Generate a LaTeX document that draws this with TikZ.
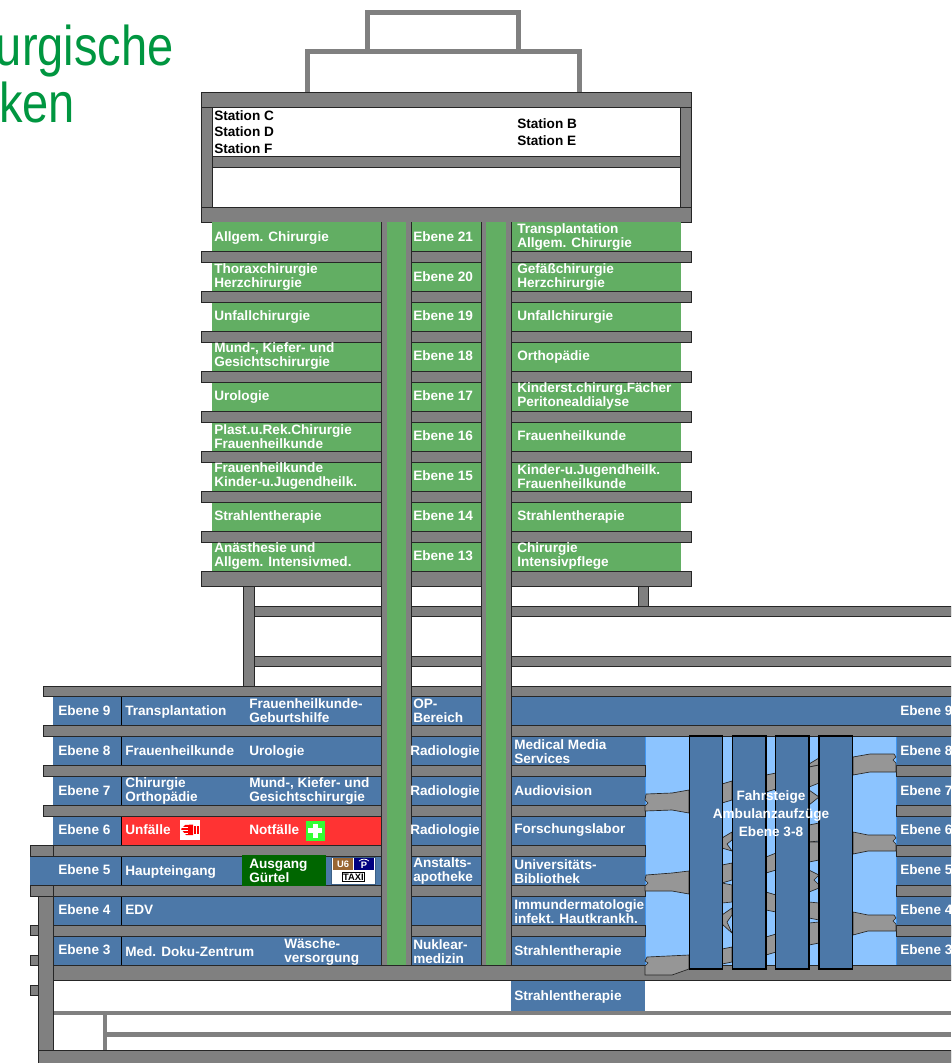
\documentclass[tikz,border=0pt]{standalone}
\usepackage{fontspec}
\setmainfont{Liberation Sans}
\newfontfamily\titlefont[FakeStretch=0.84]{Liberation Sans}
\definecolor{slabgray}{HTML}{808080}
\definecolor{walkgray}{HTML}{969696}
\definecolor{towergreen}{HTML}{62AE63}
\definecolor{roomblue}{HTML}{4C78A8}
\definecolor{airblue}{HTML}{8CC4FF}
\definecolor{edgeblue}{HTML}{3F95F0}
\definecolor{alarmred}{HTML}{FF3333}
\definecolor{exitgreen}{HTML}{006600}
\definecolor{titlegreen}{HTML}{009640}
\begin{document}
\begin{tikzpicture}[x=0.75pt,y=-0.75pt,
  slab/.style={draw=black!85,line width=0.6pt,fill=slabgray},
  thinwall/.style={fill=slabgray},
  roof/.style={draw=slabgray,line width=3.75pt},
  walk/.style={draw=black!85,line width=0.5pt,fill=walkgray},
  lift/.style={draw=black,line width=1.1pt,fill=roomblue},
  level/.style={text=white,anchor=west,inner sep=0pt,align=left,font=\fontsize{10.2}{10.5}\selectfont\bfseries},
  lab/.style={level,yshift=-0.9pt},
  blk/.style={level,text=black},
  big/.style={inner sep=0pt,text=titlegreen,font=\fontsize{42}{42}\titlefont}]
\clip (0,0) rectangle (951,1063);
\fill[white] (0,0) rectangle (951,1063);
% title
\node[big,anchor=base east] (titleA) at (174,65) {urgische};
\node[big,anchor=base west] (titleB) at (-1,122) {ken};
% roof
\draw[roof] (367.5,52) -- (367.5,12.5) -- (518.5,12.5) -- (518.5,52);
\draw[roof] (307.5,92) -- (307.5,52) -- (579.5,52) -- (579.5,92);
% top floors of the tower
\draw[slab] (201,107) rectangle (212,207);
\draw[slab] (680,107) rectangle (691,207);
\draw[slab] (212,156) rectangle (680,167);
\draw[slab] (201,92) rectangle (691,107);
\draw[slab] (201,207) rectangle (691,222);
\node[blk] (stC) at (214,115.5) {Station C};
\node[blk] (stD) at (214,132) {Station D};
\node[blk] (stF) at (214,148.5) {Station F};
\node[blk] (stB) at (517,123.5) {Station B};
\node[blk] (stE) at (517,140.5) {Station E};
% tower rooms
\fill[towergreen] (212,222) rectangle (681,571);
\draw[slab] (201,251) rectangle (691,262);
\draw[slab] (201,291) rectangle (691,302);
\draw[slab] (201,331) rectangle (691,342);
\draw[slab] (201,371) rectangle (691,382);
\draw[slab] (201,411) rectangle (691,422);
\draw[slab] (201,451) rectangle (691,462);
\draw[slab] (201,491) rectangle (691,502);
\draw[slab] (201,531) rectangle (691,542);
\draw[slab] (201,571) rectangle (691,586);
% supports and open floors
\draw[slab] (243,586) rectangle (254,686);
\draw[slab] (638,586) rectangle (648,606);
\draw[slab] (254,606) rectangle (951,616);
\draw[slab] (254,656) rectangle (951,666);
% lower block
\fill[roomblue] (53,696) rectangle (381,965);
\fill[roomblue] (411,696) rectangle (481,965);
\fill[roomblue] (511,696) rectangle (951,965);
\fill[roomblue] (30,856) rectangle (53,885);
\fill[roomblue] (511,980) rectangle (645,1011);
\fill[airblue] (645,736) rectangle (896,965);
\draw[edgeblue,line width=0.75pt] (645,736) -- (645,965) (896,736) -- (896,965);
\draw[black,line width=0.75pt] (121.5,696) -- (121.5,965);
\fill[alarmred] (122,816) rectangle (381,845);
\draw[slab] (43,686) rectangle (951,696);
\draw[slab] (43,725) rectangle (951,736);
\draw[slab] (43,765) rectangle (645,776);
\draw[slab] (43,805) rectangle (645,816);
\draw[slab] (30,845) rectangle (53,856);
\draw[slab] (53,845) rectangle (645,856);
\draw[slab] (30,885) rectangle (53,896);
\draw[slab] (53,885) rectangle (645,896);
\draw[slab] (53,925) rectangle (645,936);
\draw[slab] (896,765) rectangle (951,776);
\draw[slab] (896,805) rectangle (951,816);
\draw[slab] (896,845) rectangle (951,856);
\draw[slab] (896,885) rectangle (951,896);
\draw[slab] (896,925) rectangle (951,936);
\fill[exitgreen] (242,855) rectangle (326,885.5);
% base
\fill[thinwall] (53,1011) rectangle (951,1015);
\fill[thinwall] (103,1015) rectangle (107,1050);
\fill[thinwall] (107,1032) rectangle (951,1037);
\draw[slab] (30,925) rectangle (38,935);
\draw[slab] (30,955) rectangle (38,965);
\draw[slab] (30,985) rectangle (38,995);
\draw[slab] (38,896) rectangle (53,1050);
\draw[slab] (53,965) rectangle (951,980);
\draw[slab] (38,1050) rectangle (951,1064);
% shafts
\fill[slabgray] (381,222) rectangle (411,965);
\fill[slabgray] (481,222) rectangle (511,965);
\draw[black!85,line width=0.6pt] (381,222) -- (381,965) (411,222) -- (411,965);
\draw[black!85,line width=0.6pt] (481,222) -- (481,965) (511,222) -- (511,965);
\fill[towergreen] (386.5,222) rectangle (405.5,965);
\fill[towergreen] (486,222) rectangle (506,965);
% walkways between the block and the lifts
\draw[walk] (646,794) -- (672,793) -- (689,790) -- (689,813) -- (672,810) -- (645,811) -- (645,806) -- (648,803) -- (645,800) -- cycle;
\draw[walk] (646,875) -- (672,873) -- (689,871) -- (689,894) -- (672,891) -- (645,891) -- (645,886) -- (648,883) -- (645,880) -- cycle;
\draw[walk] (647,957) -- (689,955) -- (689,969) -- (672,975) -- (645,975) -- (645,966) -- (648,963) -- (645,961) -- cycle;
\draw[walk] (853,757) -- (870,754) -- (894,754) -- (896,757) -- (893,760) -- (896,763) -- (896,772) -- (870,772) -- (853,775) -- cycle;
\draw[walk] (853,832) -- (868,835) -- (894,835) -- (896,838) -- (893,841) -- (896,844) -- (896,851) -- (868,851) -- (853,854) -- cycle;
\draw[walk] (853,912) -- (868,915) -- (894,915) -- (896,918) -- (893,921) -- (896,924) -- (896,931) -- (868,931) -- (853,935) -- cycle;
% walkways between the lifts
\draw[walk] (722,784) -- (732,781) -- (732,800) -- (722,803) -- cycle;
\draw[walk] (722,838) -- (732,832) -- (732,840) -- (727,844) -- (732,851) -- (722,848) -- cycle;
\draw[walk] (722,865) -- (732,863) -- (732,880) -- (722,883) -- cycle;
\draw[walk] (722,883) -- (732,885) -- (732,902) -- (722,903) -- cycle;
\draw[walk] (722,915) -- (732,908) -- (732,915) -- (727,922) -- (732,933) -- (722,924) -- cycle;
\draw[walk] (722,949) -- (732,947) -- (732,962) -- (722,964) -- cycle;
\draw[walk] (766,775) -- (776,773) -- (776,789) -- (766,792) -- cycle;
\draw[walk] (766,857) -- (776,853) -- (776,870) -- (766,873) -- cycle;
\draw[walk] (766,892) -- (776,895) -- (776,912) -- (766,910) -- cycle;
\draw[walk] (766,937) -- (776,934) -- (776,952) -- (766,955) -- cycle;
\draw[walk] (809,764) -- (819,758) -- (819,765) -- (809,767) -- cycle;
\draw[walk] (809,767) -- (819,765) -- (819,783) -- (809,787) -- cycle;
\draw[walk] (809,790) -- (819,797) -- (809,805) -- cycle;
\draw[walk] (809,825) -- (819,823) -- (819,841) -- (809,842) -- cycle;
\draw[walk] (809,842) -- (819,842) -- (819,860) -- (809,862) -- cycle;
\draw[walk] (809,870) -- (819,875) -- (814,880) -- (819,885) -- (819,888) -- (809,892) -- cycle;
\draw[walk] (809,902) -- (819,903) -- (819,920) -- (809,918) -- cycle;
\draw[walk] (809,923) -- (819,922) -- (819,943) -- (809,945) -- cycle;
% lifts
\draw[lift] (689.5,736) rectangle (722.5,969);
\draw[lift] (732.5,736) rectangle (766,969);
\draw[lift] (775.5,736) rectangle (809,969);
\draw[lift] (819,736) rectangle (852.5,969);
\node[lab,anchor=center] (fahrsteige) at (771,796) {Fahrsteige};
\node[lab,anchor=center] (aufzuege) at (771,814) {Ambulanzaufzüge};
\node[lab,anchor=center] (ebenelift) at (771,830) {Ebene 3-8};
% tower labels
\node[level] (e21) at (413,236.5) {Ebene 21};
\node[level] (e20) at (413,276.5) {Ebene 20};
\node[level] (e19) at (413,316) {Ebene 19};
\node[level] (e18) at (413,356) {Ebene 18};
\node[level] (e17) at (413,396) {Ebene 17};
\node[level] (e16) at (413,436) {Ebene 16};
\node[level] (e15) at (413,476) {Ebene 15};
\node[level] (e14) at (413,516) {Ebene 14};
\node[level] (e13) at (413,556) {Ebene 13};
\node[lab] (l21) at (214,236.5) {Allgem. Chirurgie};
\node[lab] (l20) at (214,275.5) {Thoraxchirurgie\\Herzchirurgie};
\node[lab] (l19) at (214,316) {Unfallchirurgie};
\node[lab] (l18) at (214,355) {Mund-, Kiefer- und\\Gesichtschirurgie};
\node[lab] (l17) at (214,396) {Urologie};
\node[lab] (l16) at (214,435) {Plast.u.Rek.Chirurgie\\Frauenheilkunde};
\node[lab] (l15) at (214,475) {Frauenheilkunde\\Kinder-u.Jugendheilk.};
\node[lab] (l14) at (214,516) {Strahlentherapie};
\node[lab] (l13) at (214,555) {Anästhesie und\\Allgem. Intensivmed.};
\node[lab] (r21) at (517,235.5) {Transplantation\\Allgem. Chirurgie};
\node[lab] (r20) at (517,275.5) {Gefäßchirurgie\\Herzchirurgie};
\node[lab] (r19) at (517,316) {Unfallchirurgie};
\node[lab] (r18) at (517,356) {Orthopädie};
\node[lab] (r17) at (517,395) {Kinderst.chirurg.Fächer\\Peritonealdialyse};
\node[level] (r16) at (517,436) {Frauenheilkunde};
\node[lab] (r15) at (517,475) {Kinder-u.Jugendheilk.\\Frauenheilkunde};
\node[lab] (r14) at (517,516) {Strahlentherapie};
\node[lab] (r13) at (517,555) {Chirurgie\\Intensivpflege};
% lower block labels
\node[level] (e9) at (58,710.5) {Ebene 9};
\node[level] (e8) at (58,750.5) {Ebene 8};
\node[level] (e7) at (58,790.5) {Ebene 7};
\node[level] (e6) at (58,830) {Ebene 6};
\node[level] (e5) at (58,870) {Ebene 5};
\node[level] (e4) at (58,910) {Ebene 4};
\node[level] (e3) at (58,950) {Ebene 3};
\node[level] (f9) at (900,710.5) {Ebene 9};
\node[level] (f8) at (900,750.5) {Ebene 8};
\node[level] (f7) at (900,790.5) {Ebene 7};
\node[level] (f6) at (900,830) {Ebene 6};
\node[level] (f5) at (900,870) {Ebene 5};
\node[level] (f4) at (900,910) {Ebene 4};
\node[level] (f3) at (900,950) {Ebene 3};
\node[lab] (a9) at (125,711) {Transplantation};
\node[lab] (b9) at (249,709.5) {Frauenheilkunde-\\Geburtshilfe};
\node[level] (a8) at (125,751) {Frauenheilkunde};
\node[lab] (b8) at (249,750.5) {Urologie};
\node[lab] (a7) at (125,790) {Chirurgie\\Orthopädie};
\node[lab] (b7) at (249,789.5) {Mund-, Kiefer- und\\Gesichtschirurgie};
\node[level] (a6) at (125,830) {Unfälle};
\node[level] (b6) at (249,830) {Notfälle};
\node[lab] (a5) at (125,870.5) {Haupteingang};
\node[lab] (b5) at (249,870) {Ausgang\\Gürtel};
\node[level] (a4) at (125,910) {EDV};
\node[lab] (a3) at (125,950) {Med. Doku-Zentrum};
\node[lab] (b3) at (284,951) {Wäsche-\\versorgung};
\node[lab] (m9) at (413,710) {OP-\\Bereich};
\node[lab] (m8) at (410,750.5) {Radiologie};
\node[lab] (m7) at (410,790.5) {Radiologie};
\node[lab] (m6) at (410,830) {Radiologie};
\node[lab] (m5) at (413,870) {Anstalts-\\apotheke};
\node[lab] (m3) at (413,950.5) {Nuklear-\\medizin};
\node[lab] (c8) at (514,750.5) {Medical Media\\Services};
\node[level] (c7) at (514,790.5) {Audiovision};
\node[level] (c6) at (514,830) {Forschungslabor};
\node[lab] (c5) at (514,870) {Universitäts-\\Bibliothek};
\node[lab] (c4) at (514,910) {Immundermatologie\\infekt. Hautkrankh.};
\node[lab] (c3) at (514,950.5) {Strahlentherapie};
\node[lab] (c2) at (514,995.5) {Strahlentherapie};
% signs
\draw[alarmred,line width=0.75pt,fill=white] (179.5,819.5) rectangle (200,840);
\fill[red] (181,829) -- (185,825) -- (193,824.5) -- (193,835) -- (186,835) -- cycle;
\draw[white,line width=0.4pt] (181.5,827.5) -- (188,827.5) (181.5,830.5) -- (188,830.5) (182.5,833) -- (188,833);
\fill[red] (194,826) rectangle (196,834);
\fill[red] (197,826) rectangle (198.5,834);
\draw[alarmred,line width=0.75pt,fill=green!80!white] (305,820) rectangle (325,841);
\fill[white] (312.5,823.5) rectangle (317.5,837.5);
\fill[white] (308,828) rectangle (322,833);
\draw[roomblue!80!black,line width=0.75pt,fill=white] (331.5,857) rectangle (375,884);
\fill[brown!80!black] (333,858) rectangle (353,870);
\fill[blue!50!black] (354,858) rectangle (374,870);
\node[inner sep=0pt,text=white,font=\fontsize{7}{7}\selectfont\bfseries] (uline) at (343,864) {U6};
\node[inner sep=0pt,text=white,font=\fontsize{7}{7}\selectfont\bfseries] (parking) at (364,865) {P};
\draw[white,line width=0.6pt] (359,861) .. controls (362,858.5) and (366,858.5) .. (369,861);
\node[draw=black,fill=white,line width=0.6pt,inner sep=0.8pt,text=black,font=\fontsize{7}{7}\selectfont\bfseries] (taxi) at (353.5,877) {TAXI};
\end{tikzpicture}
\end{document}
